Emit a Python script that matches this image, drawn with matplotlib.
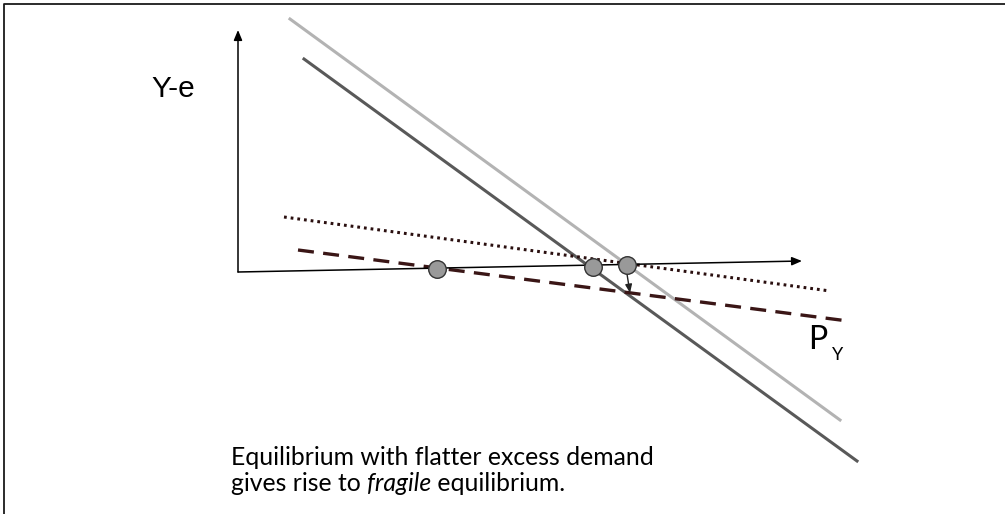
"""Schematic: fragile equilibrium with flatter excess demand."""

import matplotlib.pyplot as plt

# ---- data (diagram units: x to the right, y downward) ----
axis_origin = (238, 272)
y_axis_top = (238, 30)
x_axis_end = (802, 261)

light_line_x = [290, 840]
light_line_y = [19, 420]
dark_line_x = [304, 857]
dark_line_y = [59, 461]
dotted_line_x = [284, 830]
dotted_line_y = [217, 291]
dashed_line_x = [298, 848]
dashed_line_y = [250, 321]

eq_x = [437, 593, 627]
eq_y = [269, 267, 265]

shift_from = (627, 274)
shift_to = (630, 293)

y_label = "Y-e"
x_label = "P"
x_label_sub = "Y"
caption_1 = "Equilibrium with flatter excess demand"
caption_2a = "gives rise to "
caption_2b = "fragile"
caption_2c = " equilibrium."

W, H = 1005, 514

fig = plt.figure(figsize=(W / 100, H / 100), dpi=100)
ax = fig.add_axes([0, 0, 1, 1])
ax.set_xlim(0, W)
ax.set_ylim(H, 0)
ax.axis("off")

# frame (top and left edges only)
ax.plot([4, 4, W], [H, 4, 4], color="#1a1a1a", lw=1.3, solid_capstyle="butt")

# axes with arrows
arrow_kw = dict(arrowstyle="-|>,head_length=0.6,head_width=0.25", color="black", lw=1.1,
                shrinkA=0, shrinkB=0)
ax.annotate("", xy=y_axis_top, xytext=axis_origin, arrowprops=arrow_kw)
ax.annotate("", xy=x_axis_end, xytext=axis_origin, arrowprops=arrow_kw)

# curves
ax.plot(light_line_x, light_line_y, color="#b3b3b3", lw=2.2)
ax.plot(dark_line_x, dark_line_y, color="#595959", lw=2.2)
ax.plot(dotted_line_x, dotted_line_y, color="#2a0f0f", lw=2.2, linestyle=(0, (0.9, 1.3)))
ax.plot(dashed_line_x, dashed_line_y, color="#3a1616", lw=2.4, linestyle=(0, (4.8, 2.8)))

# equilibria
ax.scatter(eq_x, eq_y, s=160, color="#999999", edgecolor="#333333", linewidth=1.0, zorder=5)

# downward shift arrow
ax.annotate("", xy=shift_to, xytext=shift_from,
            arrowprops=dict(arrowstyle="-|>,head_length=0.5,head_width=0.2", color="#222222",
                            lw=1.0, shrinkA=0, shrinkB=0), zorder=4)

# labels
ax.text(151, 89, y_label, fontsize=21.5, family="Liberation Sans", va="center", ha="left")
ax.text(808, 340, x_label, fontsize=23, family="Lato", va="center", ha="left")
ax.text(832, 355, x_label_sub, fontsize=13, family="Lato", va="center", ha="left")

cap_kw = dict(fontsize=17.8, family="Lato", va="baseline", ha="left")
ax.text(231, 465, caption_1, **cap_kw)
t = ax.text(231, 491, caption_2a, **cap_kw)
fig.canvas.draw()
bb = t.get_window_extent()
x1 = ax.transData.inverted().transform((bb.x1, 0))[0]
t2 = ax.text(x1, 491, caption_2b, style="italic", **cap_kw)
fig.canvas.draw()
bb2 = t2.get_window_extent()
x2 = ax.transData.inverted().transform((bb2.x1, 0))[0]
ax.text(x2, 491, caption_2c, **cap_kw)

fig.savefig("out.png", dpi=100)
